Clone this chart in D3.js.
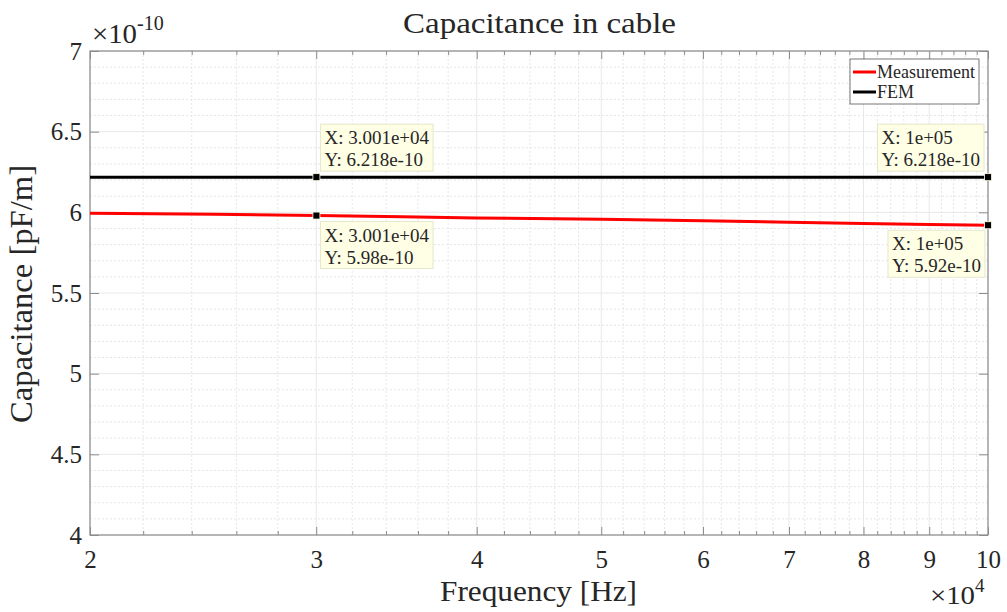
<!DOCTYPE html>
<html><head><meta charset="utf-8">
<script src="https://cdn.jsdelivr.net/npm/d3@7"></script>
<style>
body{margin:0;background:#fff;}
svg text{font-family:"Liberation Serif","Times New Roman",serif;fill:#262626;}
</style></head><body>
<svg id="c" width="1007" height="612"></svg>
<script>
// Data (frequency in Hz, capacitance in F/m)
const measFreq = [20000, 25000, 30000, 35000, 40000, 50000, 60000, 70000, 80000, 90000, 100000];
const measCap  = [5.995e-10, 5.988e-10, 5.98e-10, 5.972e-10, 5.965e-10, 5.957e-10, 5.948e-10, 5.938e-10, 5.931e-10, 5.925e-10, 5.92e-10];
const femFreq = [20000, 100000];
const femCap  = [6.218e-10, 6.218e-10];
const xTicks = [20000, 30000, 40000, 50000, 60000, 70000, 80000, 90000, 100000];
const xTickLabels = ["2","3","4","5","6","7","8","9","10"];
const yTicks = [4e-10, 4.5e-10, 5e-10, 5.5e-10, 6e-10, 6.5e-10, 7e-10];
const yTickLabels = ["4","4.5","5","5.5","6","6.5","7"];
const dataTips = [
  {x:30010, y:6.218e-10, lx:"X: 3.001e+04", ly:"Y: 6.218e-10", pos:"aboveRight"},
  {x:30010, y:5.98e-10, lx:"X: 3.001e+04", ly:"Y: 5.98e-10", pos:"belowRight"},
  {x:100000, y:6.218e-10, lx:"X: 1e+05", ly:"Y: 6.218e-10", pos:"aboveLeft"},
  {x:100000, y:5.92e-10, lx:"X: 1e+05", ly:"Y: 5.92e-10", pos:"belowLeft"}
];
const legendItems = [{name:"Measurement", color:"#ff0000"}, {name:"FEM", color:"#000000"}];

const svg = d3.select("#c");
const L=90, R=988, T=51, B=535;
const x = d3.scaleLog().domain([20000,100000]).range([L,R]);
const y = d3.scaleLinear().domain([4e-10,7e-10]).range([B,T]);

// minor grid
const xMinor = [];
for (let v=22000; v<100000; v+=2000){ if (v%10000!==0) xMinor.push(v); }
const yMinor = [];
for (let i=0;i<=30;i++){ if (i%5!==0) yMinor.push(4e-10 + i*0.1e-10); }
const g = svg.append("g");
g.selectAll(".xm").data(xMinor).join("line")
 .attr("x1",d=>x(d)).attr("x2",d=>x(d)).attr("y1",T).attr("y2",B)
 .attr("stroke","#e6e6e6").attr("stroke-width",1).attr("stroke-dasharray","2,2");
g.selectAll(".ym").data(yMinor).join("line")
 .attr("y1",d=>y(d)).attr("y2",d=>y(d)).attr("x1",L).attr("x2",R)
 .attr("stroke","#e6e6e6").attr("stroke-width",1).attr("stroke-dasharray","2,2");
// major grid
g.selectAll(".xM").data(xTicks).join("line")
 .attr("x1",d=>x(d)).attr("x2",d=>x(d)).attr("y1",T).attr("y2",B)
 .attr("stroke","#e8e8e8").attr("stroke-width",1);
g.selectAll(".yM").data(yTicks).join("line")
 .attr("y1",d=>y(d)).attr("y2",d=>y(d)).attr("x1",L).attr("x2",R)
 .attr("stroke","#e8e8e8").attr("stroke-width",1);

// axes
const axCol = "#8c8c8c";
function styleAxis(sel){
  sel.select(".domain").remove();
  sel.selectAll(".tick line").attr("stroke",axCol);
  sel.selectAll("text").attr("font-size","25px").attr("fill","#262626")
     .style("font-family",'"Liberation Serif","Times New Roman",serif');
}
const xAxB = d3.axisBottom(x).tickValues(xTicks).tickFormat((d,i)=>xTickLabels[i]).tickSizeInner(-8).tickSizeOuter(0).tickPadding(15);
svg.append("g").attr("transform",`translate(0,${B})`).call(xAxB).call(styleAxis);
const xAxT = d3.axisTop(x).tickValues(xTicks).tickFormat("").tickSizeInner(-8).tickSizeOuter(0);
svg.append("g").attr("transform",`translate(0,${T})`).call(xAxT).call(styleAxis);
const xmB = d3.axisBottom(x).tickValues(xMinor).tickFormat("").tickSizeInner(-4).tickSizeOuter(0);
svg.append("g").attr("transform",`translate(0,${B})`).call(xmB).call(styleAxis);
const xmT = d3.axisTop(x).tickValues(xMinor).tickFormat("").tickSizeInner(-4).tickSizeOuter(0);
svg.append("g").attr("transform",`translate(0,${T})`).call(xmT).call(styleAxis);
const yAxL = d3.axisLeft(y).tickValues(yTicks).tickFormat((d,i)=>yTickLabels[i]).tickSizeInner(-9).tickSizeOuter(0).tickPadding(8);
svg.append("g").attr("transform",`translate(${L},0)`).call(yAxL).call(styleAxis);
const yAxR = d3.axisRight(y).tickValues(yTicks).tickFormat("").tickSizeInner(-9).tickSizeOuter(0);
svg.append("g").attr("transform",`translate(${R},0)`).call(yAxR).call(styleAxis);
svg.append("rect").attr("x",L).attr("y",T).attr("width",R-L).attr("height",B-T)
 .attr("fill","none").attr("stroke",axCol).attr("stroke-width",1.2);

// lines
const line = d3.line().x(d=>x(d[0])).y(d=>y(d[1]));
svg.append("path").datum(measFreq.map((f,i)=>[f,measCap[i]])).attr("d",line)
 .attr("fill","none").attr("stroke","#ff0000").attr("stroke-width",3);
svg.append("path").datum(femFreq.map((f,i)=>[f,femCap[i]])).attr("d",line)
 .attr("fill","none").attr("stroke","#000000").attr("stroke-width",3);

// data tips
dataTips.forEach(t=>{
  const px=x(t.x), py=y(t.y);
  const grp = svg.append("g");
  const rect = grp.append("rect");
  const t1 = grp.append("text").attr("font-size","19px").attr("fill","#1a1a1a").text(t.lx);
  const t2 = grp.append("text").attr("font-size","19px").attr("fill","#1a1a1a").text(t.ly);
  const tw = Math.max(t1.node().getComputedTextLength(), t2.node().getComputedTextLength());
  const w = tw + 8, h = 47;
  let bx, by;
  if (t.pos==="aboveRight"){ bx=px+4; by=py-53; }
  else if (t.pos==="belowRight"){ bx=px+4; by=py+6; }
  else if (t.pos==="aboveLeft"){ bx=px-w-4; by=py-53; }
  else { bx=px-w-3; by=py+5; }
  rect.attr("x",bx).attr("y",by).attr("width",w).attr("height",h)
   .attr("fill","#ffffe6").attr("stroke","#e6e6cc").attr("stroke-width",1);
  t1.attr("x",bx+4).attr("y",by+20);
  t2.attr("x",bx+4).attr("y",by+42);
  grp.append("rect").attr("x",px-3.5).attr("y",py-3.5).attr("width",7).attr("height",7)
   .attr("fill","#000").attr("stroke","#ffffe6").attr("stroke-width",0.8);
});

// legend
const lg = svg.append("g");
lg.append("rect").attr("x",850).attr("y",59).attr("width",129).attr("height",45)
 .attr("fill","#fff").attr("stroke","#555").attr("stroke-width",0.8);
legendItems.forEach((it,i)=>{
  const ly = 72 + i*20;
  lg.append("line").attr("x1",853).attr("x2",876).attr("y1",ly).attr("y2",ly)
   .attr("stroke",it.color).attr("stroke-width",3);
  lg.append("text").attr("x",877).attr("y",ly+6).attr("font-size","18px").attr("fill","#000").text(it.name);
});

// title & labels
svg.append("text").attr("x",539.5).attr("y",33).attr("text-anchor","middle").attr("font-size","30px").attr("fill","#000")
 .attr("textLength",273).attr("lengthAdjust","spacingAndGlyphs").text("Capacitance in cable");
svg.append("text").attr("x",538.5).attr("y",601).attr("text-anchor","middle").attr("font-size","30px")
 .attr("textLength",197).attr("lengthAdjust","spacingAndGlyphs").text("Frequency [Hz]");
svg.append("text").attr("transform","translate(32,294) rotate(-90)").attr("text-anchor","middle").attr("font-size","31px")
 .attr("textLength",258).attr("lengthAdjust","spacingAndGlyphs").text("Capacitance [pF/m]");
// exponents
const e1 = svg.append("text").attr("x",92).attr("y",43).attr("font-size","27px");
e1.append("tspan").attr("textLength",45).attr("lengthAdjust","spacingAndGlyphs").text("\u00d710");
e1.append("tspan").attr("dy",-13).attr("font-size","20px").text("-10");
const e2 = svg.append("text").attr("x",930).attr("y",604).attr("font-size","26px");
e2.append("tspan").attr("textLength",45).attr("lengthAdjust","spacingAndGlyphs").text("\u00d710");
e2.append("tspan").attr("dy",-12).attr("font-size","19px").text("4");
</script></body></html>
